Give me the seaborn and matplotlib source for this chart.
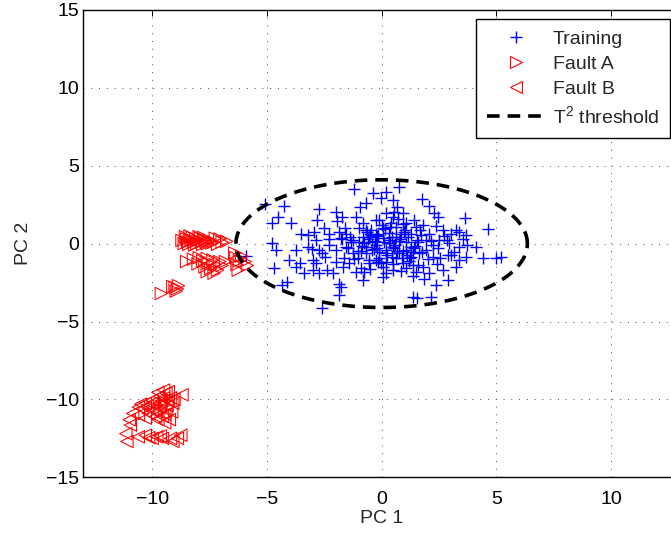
import numpy as np
import pandas as pd
import matplotlib
matplotlib.use("Agg")
import matplotlib.pyplot as plt
from matplotlib.lines import Line2D
import seaborn as sns

# ---------------- data ----------------
train_x = [-1.19, 0.77, 0.19, -0.37, 0.48, -0.03, -0.69, 1.76, 2.08, 2.30, 2.44, 3.64, 4.63,
           -5.08, -4.26, -4.50, -4.76, -3.96, -2.72, -2.80, -1.97, -1.71, -1.13, -3.52, -2.93,
           -2.50, -2.28, -1.85, -1.56, -0.69, -0.83, -0.54, -0.25, -0.40, -0.76, -0.98, -0.10,
           0.19, 0.48, 0.91, 1.06, 1.50, 1.28, 1.71, 2.08, 2.52, 2.66, 3.03, 3.39, 3.68, 3.71,
           3.68, 3.39, 2.88, 4.40, 4.99, 5.20, 2.88, 2.37, 2.15, 1.35, 1.56, 2.66, 2.08, 1.79,
           1.35, 0.91, 0.48, 0.19, 0.04, -0.25, -0.54, -0.91, -1.12, -1.41, -1.63, -1.85, -1.78,
           -1.85, -2.58, -2.14, -2.36, -2.72, -2.87, -3.01, -3.38, -4.03, -4.61, -4.76, -4.69,
           -4.11, -4.33, -3.74, -3.23, -2.72, -2.29, -2.00, -1.56, -1.27, -1.05, -0.69, -0.40,
           -0.10, 0.19, 0.48, 0.77, 1.06, 1.28, 1.64, 1.93, 2.23, 2.44, 3.24, 1.06, 0.63, 0.33,
           0.04, 0.63, 0.99, 1.57, 1.93, 2.23, 2.95, 3.39, 3.53, 3.17, 4.12, -2.87, -3.23, -1.71,
           -1.34, -0.25, 1.42, 0.19, 0.63, 1.50, -0.83, -3.01, -3.74, -5.90,
           -0.60, -0.50, -0.30, -0.70, -0.20, 0.10, 0.30, 0.60, 0.80, 1.10, 1.30, 1.20, 0.90,
           0.50, -0.10, -0.90, -1.20, -1.40, -1.00, 0.00, 0.40, 0.70, 1.40, 1.80, -0.50, 1.60,
           2.00, 2.40, -1.70, -2.00, -2.30, -2.60, -0.80, -0.20, 0.20, 0.45, 1.00, -1.60, 2.70,
           3.00,
           -0.45, -0.15, 0.05, 0.35, 0.55, 0.75, 0.95, 1.15, 1.35, 1.55,
           -0.35, -0.65, -0.85, -1.05, -1.25, 0.25, 0.65, 0.85, 1.25, 1.45,
           -0.55, -0.05, 0.15, 0.45, 1.75, 2.15, -1.45, -1.75, 0.35, 0.95,
           1.65, -0.25, 0.55, 1.05, -0.75, 2.55, 2.85, 3.25, -2.45, -3.05,
           -3.55, -1.95, 0.05, 1.85, -0.95, 0.65, 1.35, 2.35, -0.15, 0.85]
train_y = [3.53, 3.61, 3.33, 3.22, 2.79, 2.90, 2.58, 2.84, 2.41, 1.94, 1.72, 1.66, 0.91,
           2.52, 2.41, 1.73, 1.30, 1.30, 2.20, 1.50, 2.05, 1.72, 1.72, 0.65, 0.76,
           0.98, 0.65, 0.76, 0.65, 0.87, 0.44, 0.44, 0.65, 0.12, 0.02, 0.98, 1.50,
           1.94, 1.72, 1.94, 1.30, 1.08, 0.65, 0.55, 0.65, 0.23, 0.87, 0.65, 0.76, 0.55, -0.09,
           -0.84, -1.05, -0.73, -0.94, -0.94, -0.84, -2.34, -2.66, -3.41, -3.41, -3.52, -1.70, -1.91, -1.48,
           -1.38, -1.27, -1.70, -1.91, -1.48, -1.05, -1.27, -1.59, -1.80, -1.27, -0.94, -2.56, -2.77,
           -3.30, -4.16, -1.91, -1.70, -1.91, -1.27, -1.05, -1.91, -1.05, -0.41, 0.02, -1.59,
           -2.45, -2.66, -0.41, -0.20, -0.41, -0.09, -0.41, -0.20, -0.63, -0.94, -0.63, -0.41,
           -0.52, -0.41, -0.20, -0.63, -0.41, -0.84, -0.63, -0.41, -0.84, -0.30, -1.48, 0.12, 0.44, 0.23,
           0.98, 1.08, 0.76, 0.12, 0.23, -0.09, 0.02, -0.20, 0.33, -0.52, -0.20, 0.23, 0.55, 0.33,
           0.12, -0.09, -0.30, -1.16, -0.94, -1.80, -2.34, -1.70, -1.48, -0.80,
           0.30, 0.60, 0.20, -0.20, 0.50, 0.10, 0.70, -0.10, 0.30, -0.70, -0.20, -1.10, -0.90,
           -1.30, -0.90, -0.50, -1.00, 0.40, 0.10, 1.20, 1.30, 1.60, 1.50, 1.20, -1.60, -1.40,
           -1.00, -1.30, -1.50, -1.20, 0.30, -0.60, 1.30, -0.30, -0.60, 0.45, 0.90, 1.00, 0.50,
           -0.70,
           0.85, 0.55, 0.35, 0.05, -0.25, 0.15, -0.45, 0.45, -0.55, 0.25,
           -0.35, 0.75, -0.15, -0.45, 0.25, -0.75, -0.45, 0.65, -0.95, -0.15,
           -1.05, -1.25, 0.95, -0.85, -0.55, 0.15, -0.25, 0.35, 1.05, 1.25,
           0.85, 1.55, 2.05, -1.55, -1.85, -0.95, 0.25, 0.85, -0.85, -0.35,
           -1.25, 1.45, -2.15, -2.25, 2.35, 2.35, -2.05, 1.15, -1.15, -1.75]

faultA_x = [-8.70, -8.60, -8.50, -8.45, -8.40, -8.30, -8.25, -8.20, -8.10, -8.05, -8.00, -7.90,
            -7.85, -7.80, -7.70, -7.65, -7.60, -7.50, -7.40, -7.30, -7.15, -6.95, -8.35, -7.95,
            -6.75, -7.05, -7.25, -8.55, -8.15, -7.75,
            -8.50, -8.20, -8.00, -7.95, -7.80, -7.70, -7.60, -7.55, -7.45, -7.35, -7.30, -7.25,
            -7.15, -7.05, -6.95, -6.80, -7.60,
            -6.40, -6.35, -6.30, -6.25, -6.20, -5.95, -5.85, -6.10,
            -9.60, -9.10, -9.00, -8.90, -8.85, -8.95]
faultA_y = [0.20, 0.00, 0.30, 0.10, -0.05, 0.25, 0.40, 0.10, 0.30, 0.00, 0.20, 0.35,
            0.10, -0.05, 0.25, 0.15, 0.00, 0.20, 0.05, 0.10, -0.05, 0.10, 0.50, 0.45,
            0.15, 0.30, 0.35, 0.45, -0.10, 0.40,
            -1.15, -1.00, -1.30, -0.90, -1.10, -1.50, -0.95, -1.25, -1.60, -1.05, -1.90, -1.35,
            -1.70, -1.15, -1.40, -1.15, -1.80,
            -0.60, -0.90, -1.35, -1.70, -1.10, -1.15, -1.40, -0.80,
            -3.20, -2.75, -2.80, -2.90, -2.70, -3.05]

faultB_x = [-8.70, -9.05, -9.40, -9.70, -10.00, -10.30, -10.60, -10.85, -11.00, -10.95, -9.70,
            -9.40, -10.00, -9.55, -9.25, -9.10, -9.85, -10.15, -9.50, -9.30, -9.60, -9.20, -9.90,
            -9.35, -9.75, -10.45, -9.45, -9.15, -9.80, -10.30, -10.60,
            -9.50, -9.65, -9.30, -9.95, -10.20, -9.45, -9.75, -10.50,
            -11.15, -11.10, -10.60, -10.30, -10.00, -9.80, -9.55, -9.20, -8.90, -8.75, -9.10,
            -10.15, -9.65]
faultB_y = [-9.70, -10.00, -9.60, -9.80, -10.05, -10.25, -10.50, -10.90, -11.30, -11.65, -10.45,
            -10.70, -10.70, -11.10, -11.30, -10.25, -11.10, -10.90, -9.40, -9.50, -10.10, -9.90, -10.40,
            -10.40, -9.55, -10.60, -11.50, -10.80, -10.80, -11.20, -11.00,
            -9.90, -10.30, -10.10, -10.20, -10.45, -10.95, -11.30, -10.30,
            -12.20, -12.70, -12.40, -12.30, -12.50, -12.40, -12.50, -12.50, -12.50, -12.30, -12.70,
            -12.45, -12.35]

# T^2 threshold ellipse (semi-axes along PC1 / PC2)
ell_a = 6.35
ell_b = 4.10

x_ticks = [-10, -5, 0, 5, 10]
y_ticks = [-15, -10, -5, 0, 5, 10, 15]
legend_labels = ["Training", "Fault A", "Fault B", r"T$^2$ threshold"]

# ---------------- style ----------------
sns.set_theme(style="white")
plt.rcParams["font.family"] = ["Liberation Sans", "DejaVu Sans"]
plt.rcParams["mathtext.fontset"] = "custom"
plt.rcParams["mathtext.rm"] = "Liberation Sans"
plt.rcParams["mathtext.it"] = "Liberation Sans"
plt.rcParams["axes.unicode_minus"] = True

FS = 14
fig = plt.figure(figsize=(6.71, 5.36), dpi=100)
ax = fig.add_axes([83.3 / 671, (536 - 477.3) / 536, (680 - 83.3) / 671, (477.3 - 10) / 536])

train = pd.DataFrame({"PC1": train_x, "PC2": train_y})
fa = pd.DataFrame({"PC1": faultA_x, "PC2": faultA_y})
fb = pd.DataFrame({"PC1": faultB_x, "PC2": faultB_y})

sns.scatterplot(data=train, x="PC1", y="PC2", marker="+", color="#0000ff",
                s=70, linewidth=1.0, ax=ax, zorder=3, legend=False)
sns.scatterplot(data=fa, x="PC1", y="PC2", marker=">", facecolor="none",
                edgecolor="#ff0000", s=80, linewidth=0.75, ax=ax, zorder=3, legend=False)
sns.scatterplot(data=fb, x="PC1", y="PC2", marker="<", facecolor="none",
                edgecolor="#ff0000", s=80, linewidth=0.75, ax=ax, zorder=3, legend=False)

t = np.linspace(0, 2 * np.pi, 400)
ell = pd.DataFrame({"x": ell_a * np.cos(t), "y": ell_b * np.sin(t)})
ax.plot(ell["x"], ell["y"], color="black", linewidth=2.6, dashes=(3.5, 2.2), zorder=4)

ax.set_xlim(-13, 13)
ax.set_ylim(-15, 15)
ax.set_xticks(x_ticks)
ax.set_yticks(y_ticks)
ax.grid(True, color="0.3", linestyle=(0, (1, 7)), linewidth=0.7)
ax.tick_params(direction="in", top=True, right=True, length=4, width=0.7,
               labelsize=FS, colors="black")
ax.tick_params(axis="x", pad=10)
ax.tick_params(axis="y", pad=3)
for sp in ax.spines.values():
    sp.set_color("black")
    sp.set_linewidth(1.0)

ax.set_xlabel("PC 1", fontsize=FS, labelpad=1)
ax.set_ylabel("PC 2", fontsize=FS, labelpad=10)

handles = [
    Line2D([], [], linestyle="none", marker="+", color="#0000ff", markersize=8.5, markeredgewidth=1.0),
    Line2D([], [], linestyle="none", marker=">", markerfacecolor="none", markeredgecolor="#ff0000",
           markersize=8, markeredgewidth=0.8),
    Line2D([], [], linestyle="none", marker="<", markerfacecolor="none", markeredgecolor="#ff0000",
           markersize=8, markeredgewidth=0.8),
    Line2D([], [], color="black", linewidth=2.6, dashes=(3.5, 2.2)),
]
leg = ax.legend(handles, legend_labels, loc="upper right",
                bbox_to_anchor=(670 / 671, 1 - 19.3 / 536), bbox_transform=fig.transFigure,
                borderaxespad=0, fontsize=FS, frameon=True, fancybox=False,
                edgecolor="black", framealpha=1, handlelength=2.95, handletextpad=0.42,
                labelspacing=0.38, borderpad=0.55)
leg.get_frame().set_linewidth(1.0)

fig.savefig("out.png", dpi=100)
